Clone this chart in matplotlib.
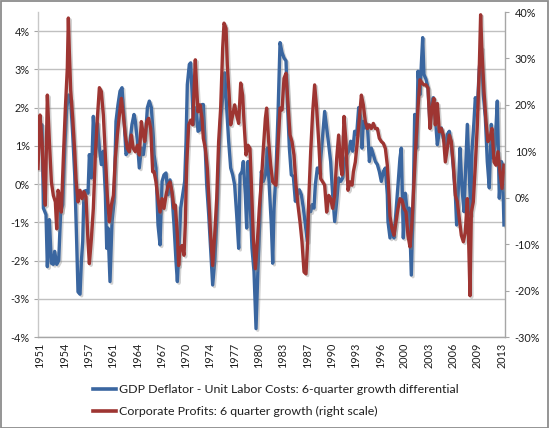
import numpy as np
import matplotlib
matplotlib.use("Agg")
import matplotlib.pyplot as plt
import matplotlib.patheffects as pe
from matplotlib.patches import Rectangle

plt.rcParams['font.family'] = ['Lato', 'DejaVu Sans']

# ---------------- data ----------------
blue_years = [
    1951.07, 1951.52, 1951.70, 1952.05, 1952.23, 1952.50, 1952.77, 1953.03, 1953.21, 1953.48,
    1953.75, 1954.01, 1954.28, 1954.55, 1954.82, 1955.08, 1955.35, 1955.62, 1955.89, 1956.15,
    1956.33, 1956.60, 1956.78, 1956.96, 1957.13, 1957.40, 1957.67, 1957.85, 1958.12, 1958.38,
    1958.65, 1958.92, 1959.19, 1959.45, 1959.72, 1959.99, 1960.17, 1960.34, 1960.61, 1960.88,
    1961.15, 1961.41, 1961.68, 1961.95, 1962.22, 1962.48, 1962.75, 1963.02, 1963.29, 1963.55,
    1963.82, 1964.00, 1964.27, 1964.53, 1964.80, 1965.07, 1965.34, 1965.61, 1965.87, 1966.14,
    1966.41, 1966.50, 1966.76, 1967.03, 1967.30, 1967.57, 1967.83, 1968.10, 1968.37, 1968.64,
    1968.90, 1969.17, 1969.44, 1969.62, 1969.88, 1970.06, 1970.33, 1970.60, 1970.78, 1970.95,
    1971.22, 1971.40, 1971.58, 1971.76, 1971.93, 1972.20, 1972.38, 1972.65, 1972.92, 1973.09,
    1973.27, 1973.54, 1973.81, 1974.07, 1974.34, 1974.61, 1974.88, 1975.14, 1975.41, 1975.68,
    1975.95, 1976.21, 1976.48, 1976.75, 1977.02, 1977.28, 1977.55, 1977.82, 1978.00, 1978.27,
    1978.44, 1978.71, 1978.89, 1979.07, 1979.33, 1979.60, 1979.87, 1980.14, 1980.40, 1980.67,
    1980.85, 1981.12, 1981.39, 1981.65, 1981.92, 1982.19, 1982.37, 1982.55, 1982.81, 1983.08,
    1983.35, 1983.62, 1983.88, 1984.15, 1984.33, 1984.60, 1984.86, 1985.13, 1985.40, 1985.67,
    1985.93, 1986.20, 1986.47, 1986.74, 1987.00, 1987.18, 1987.45, 1987.63, 1987.89, 1988.07,
    1988.34, 1988.61, 1988.88, 1989.14, 1989.32, 1989.59, 1989.86, 1990.12, 1990.39, 1990.66,
    1990.93, 1991.19, 1991.46, 1991.73, 1992.00, 1992.26, 1992.53, 1992.80, 1993.07, 1993.33,
    1993.60, 1993.87, 1994.14, 1994.31, 1994.49, 1994.76, 1995.03, 1995.30, 1995.56, 1995.83,
    1996.10, 1996.37, 1996.63, 1996.90, 1997.17, 1997.44, 1997.70, 1997.79, 1998.06, 1998.33,
    1998.59, 1998.86, 1999.13, 1999.39, 1999.57, 1999.84, 2000.11, 2000.38, 2000.64, 2000.91,
    2001.18, 2001.36, 2001.62, 2001.80, 2002.07, 2002.25, 2002.43, 2002.60, 2002.87, 2003.14,
    2003.41, 2003.59, 2003.85, 2004.12, 2004.39, 2004.66, 2004.92, 2005.19, 2005.46, 2005.73,
    2005.99, 2006.26, 2006.53, 2006.80, 2006.97, 2007.24, 2007.42, 2007.69, 2007.95, 2008.22,
    2008.40, 2008.67, 2008.85, 2009.02, 2009.29, 2009.47, 2009.74, 2010.01, 2010.27, 2010.54,
    2010.81, 2011.07, 2011.34, 2011.61, 2011.88, 2012.14, 2012.41, 2012.68, 2012.95, 2013.10,
    2013.30,
]
gdp_deflator_ulc = [
    1.00, 1.55, -0.63, -0.80, -2.16, -0.93, -2.07, -2.10, -1.76, -2.10,
    -2.00, -0.72, -0.54, 0.94, 2.00, 2.33, 2.20, 1.30, 0.24, -1.50,
    -2.82, -2.88, -2.03, -1.50, -0.19, -0.17, -0.24, 0.77, 0.16, 1.77,
    0.77, 1.60, 0.94, 0.51, 0.86, -0.28, -1.68, -1.15, -2.55, -0.98,
    -0.45, 1.64, 2.08, 2.43, 2.52, 1.73, 0.77, 0.86, 1.12, 1.56,
    1.82, 1.64, 1.12, 0.42, 0.94, 0.77, 1.20, 2.00, 2.17, 2.00,
    1.20, 0.77, 0.42, -1.07, -1.59, 0.07, 0.24, 0.29, -0.28, 0.11,
    -0.28, -1.07, -2.03, -2.55, -1.50, -0.63, -0.28, 0.07, 1.12, 2.60,
    3.13, 3.17, 2.43, 1.56, 2.00, 1.82, 1.38, 1.42, 2.08, 2.08,
    1.30, -0.02, -0.80, -1.68, -2.64, -2.03, -0.98, 0.59, 1.73, 2.26,
    2.91, 2.00, 1.12, 0.42, 0.24, -0.02, -0.80, -1.68, 0.24, 0.33,
    0.59, -0.28, -1.15, 0.59, -0.37, -1.68, -2.29, -3.78, -2.20, -0.80,
    0.33, 0.07, 0.24, 0.94, -0.10, -1.07, -2.07, -0.63, 0.33, 1.82,
    3.70, 3.44, 3.30, 3.22, 2.17, 0.94, 0.24, 0.20, -0.45, -0.28,
    -0.15, -0.28, -0.63, -1.07, -1.50, -0.63, -0.72, -0.54, -0.63, -0.02,
    0.42, 0.29, 0.86, 1.47, 1.90, 1.47, 1.03, 0.59, -0.28, -0.98,
    -0.45, 0.16, 0.07, 0.16, 0.59, 0.77, 0.86, 1.12, 0.86, 1.38,
    1.30, 2.00, 1.73, 0.94, 1.64, 1.47, 1.56, 0.59, 0.94, 0.77,
    0.59, 0.51, 0.33, 0.07, 0.33, 0.42, -0.28, -0.98, -1.41, -1.07,
    -1.41, -0.72, -0.02, 0.68, 0.94, -1.41, -0.24, -0.80, -0.63, -2.38,
    -0.28, 1.82, 0.94, 2.95, 2.34, 3.13, 3.83, 2.87, 2.74, 2.52,
    1.56, 2.00, 2.26, 1.73, 1.03, 1.38, 1.47, 1.20, 1.03, 1.30,
    1.38, 1.03, 0.42, -0.28, -1.07, 0.07, 0.94, -0.10, -0.72, 0.68,
    1.56, 0.24, -0.80, 0.86, 1.64, 2.26, 2.00, 3.04, 3.57, 2.34,
    1.73, 0.59, -0.10, 1.56, 0.68, 1.12, 2.17, -0.37, 0.59, 0.50,
    -1.07,
]

red_years = [
    1950.98, 1951.25, 1951.52, 1951.70, 1951.96, 1952.23, 1952.50, 1952.77, 1953.03, 1953.30,
    1953.48, 1953.66, 1953.84, 1954.10, 1954.37, 1954.64, 1954.90, 1955.04, 1955.17, 1955.35,
    1955.62, 1955.89, 1956.06, 1956.33, 1956.60, 1956.87, 1957.13, 1957.40, 1957.67, 1957.85,
    1958.12, 1958.38, 1958.65, 1958.92, 1959.19, 1959.45, 1959.72, 1959.99, 1960.25, 1960.52,
    1960.79, 1961.06, 1961.32, 1961.59, 1961.86, 1962.13, 1962.39, 1962.66, 1962.93, 1963.20,
    1963.46, 1963.73, 1964.00, 1964.27, 1964.53, 1964.80, 1965.07, 1965.25, 1965.52, 1965.78,
    1966.05, 1966.32, 1966.50, 1966.76, 1967.03, 1967.30, 1967.57, 1967.83, 1968.10, 1968.37,
    1968.64, 1968.90, 1969.17, 1969.35, 1969.62, 1969.79, 1969.97, 1970.24, 1970.51, 1970.69,
    1970.86, 1971.13, 1971.40, 1971.67, 1971.85, 1972.02, 1972.20, 1972.38, 1972.65, 1972.92,
    1973.09, 1973.36, 1973.63, 1973.81, 1974.07, 1974.34, 1974.61, 1974.88, 1975.14, 1975.41,
    1975.68, 1975.86, 1976.13, 1976.30, 1976.57, 1976.75, 1977.02, 1977.28, 1977.55, 1977.82,
    1978.09, 1978.35, 1978.53, 1978.80, 1979.07, 1979.33, 1979.51, 1979.78, 1980.05, 1980.32,
    1980.58, 1980.85, 1981.12, 1981.39, 1981.56, 1981.83, 1982.10, 1982.37, 1982.81, 1983.08,
    1983.35, 1983.62, 1983.88, 1984.15, 1984.42, 1984.69, 1984.95, 1985.22, 1985.49, 1985.75,
    1986.02, 1986.29, 1986.56, 1986.82, 1987.00, 1987.18, 1987.45, 1987.72, 1987.98, 1988.25,
    1988.52, 1988.79, 1989.05, 1989.32, 1989.59, 1989.86, 1990.12, 1990.39, 1990.66, 1990.93,
    1991.19, 1991.46, 1991.64, 1991.91, 1992.17, 1992.44, 1992.71, 1992.98, 1993.16, 1993.42,
    1993.69, 1993.96, 1994.23, 1994.49, 1994.76, 1995.03, 1995.30, 1995.56, 1995.83, 1996.10,
    1996.37, 1996.63, 1996.90, 1997.17, 1997.44, 1997.70, 1997.85, 1998.06, 1998.33, 1998.59,
    1998.86, 1999.13, 1999.39, 1999.66, 1999.93, 2000.20, 2000.46, 2000.73, 2001.00, 2001.27,
    2001.54, 2001.80, 2002.07, 2002.34, 2002.60, 2002.87, 2003.14, 2003.41, 2003.67, 2003.94,
    2004.12, 2004.39, 2004.66, 2004.92, 2005.19, 2005.46, 2005.73, 2005.99, 2006.26, 2006.53,
    2006.80, 2007.06, 2007.33, 2007.60, 2007.87, 2008.13, 2008.40, 2008.58, 2008.76, 2008.94,
    2009.20, 2009.47, 2009.74, 2010.01, 2010.18, 2010.36, 2010.63, 2010.90, 2011.16, 2011.43,
    2011.70, 2011.97, 2012.23, 2012.50, 2012.77, 2013.04, 2013.30,
]
corporate_profits = [
    6.3, 17.8, 12.0, 4.9, -1.6, 22.1, 12.1, 3.4, 0.5, -0.9,
    -6.7, 1.6, 0.5, -3.1, 8.5, 19.3, 27.9, 38.7, 31.5, 23.2,
    17.1, 9.9, 4.1, -0.9, 1.6, -0.2, 1.3, 0.2, -9.5, -14.2,
    -8.8, -2.3, 9.2, 17.1, 23.7, 22.9, 17.8, 9.2, 0.5, -5.2,
    -1.6, 0.5, 8.5, 13.5, 17.8, 21.4, 17.8, 13.5, 10.6, 9.9,
    13.5, 10.6, 9.9, 11.3, 9.2, 16.4, 13.5, 12.1, 16.4, 17.1,
    14.9, 5.6, 5.6, 3.4, -0.2, -3.1, -0.2, -2.3, 0.5, 2.7,
    3.4, 1.3, -2.3, -1.6, -8.1, -14.6, -11.0, -10.3, -12.4, -5.2,
    7.0, 15.7, 16.7, 15.7, 22.9, 29.7, 23.6, 18.5, 20.0, 17.1,
    12.8, 10.6, 6.3, 0.5, -8.1, -14.6, -8.1, -0.2, 12.1, 19.3,
    32.2, 37.6, 36.5, 28.6, 21.4, 15.7, 17.8, 20.0, 17.8, 16.0,
    24.7, 22.1, 16.4, 9.2, 11.3, 10.6, 3.4, -8.8, -15.3, -9.5,
    -2.3, 3.4, 10.6, 17.1, 19.3, 12.1, 7.0, 3.4, 2.7, 11.3,
    19.3, 18.9, 25.7, 26.8, 20.0, 13.5, 12.1, 9.2, 2.7, -1.6,
    -5.2, -9.5, -16.0, -16.4, -11.0, -0.9, 9.9, 18.5, 24.3, 19.3,
    12.1, 4.1, 3.4, 2.7, -3.1, 0.5, -0.2, -2.3, 0.5, 8.5,
    13.5, 7.0, 4.9, 17.5, 12.1, 1.6, 3.4, 2.7, 5.6, 7.7,
    12.1, 17.1, 22.1, 20.0, 16.4, 14.9, 15.7, 14.9, 16.0, 14.9,
    14.9, 12.8, 12.1, 11.7, 10.6, 7.0, 3.0, -4.0, -6.7, -8.1,
    -5.2, -2.3, -0.2, -0.5, -2.3, -3.1, -8.1, -10.6, -5.2, 3.4,
    12.1, 19.3, 25.4, 24.7, 24.3, 24.3, 23.6, 14.9, 19.3, 21.4,
    15.7, 20.3, 14.2, 14.9, 13.5, 7.7, 10.6, 13.5, 12.1, 7.0,
    0.5, -0.9, -4.5, -8.1, -9.5, -7.4, -0.2, -9.5, -21.1, -3.1,
    -0.9, 7.0, 15.7, 28.6, 39.4, 31.5, 22.9, 16.4, 12.1, 12.8,
    14.9, 7.7, 7.0, 9.9, 5.6, 2.0, 7.0,
]

x_tick_labels = ['1951', '1954', '1957', '1961', '1964', '1967', '1970', '1974', '1977', '1980',
                 '1983', '1987', '1990', '1993', '1996', '2000', '2003', '2006', '2009', '2013']
left_ticks = [-4, -3, -2, -1, 0, 1, 2, 3, 4]
right_ticks = [-30, -20, -10, 0, 10, 20, 30, 40]

label_blue = 'GDP Deflator - Unit Labor Costs: 6-quarter growth differential'
label_red = 'Corporate Profits: 6 quarter growth (right scale)'

# ---------------- figure ----------------
W, H = 549, 428
fig = plt.figure(figsize=(W / 100, H / 100), dpi=100)
fig.patch.set_facecolor('white')

ax = fig.add_axes([38 / W, (H - 337) / H, (505 - 38) / W, (337 - 12) / H])
ax2 = ax.twinx()

blue = '#3A66A0'
red = '#9E3532'
shadow = [pe.SimpleLineShadow(offset=(1.2, -1.2), shadow_color='#808080', alpha=0.35), pe.Normal()]

l1, = ax.plot(blue_years, gdp_deflator_ulc, color=blue, lw=2.4, solid_joinstyle='round',
              path_effects=shadow, label=label_blue)
l2, = ax2.plot(red_years, corporate_profits, color=red, lw=2.4, solid_joinstyle='round',
               path_effects=shadow, label=label_red)

ax.set_xlim(1950.98, 2013.44)
ax.set_ylim(-4, 4.5)
ax2.set_ylim(-30, 40)

tick_font = dict(fontsize=7.8, color='#1F1F1F')
tick_pos = 1951.25 + 3.25 * np.arange(len(x_tick_labels))
ax.set_xticks(tick_pos)
ax.set_xticklabels(x_tick_labels, rotation=90, **tick_font)
ax.tick_params(axis='x', length=0, pad=4)

ax.set_yticks(left_ticks)
ax.set_yticklabels([f'{v}%' for v in left_ticks], **tick_font)
ax.tick_params(axis='y', length=3, color='#A6A6A6', pad=3)
ax2.set_yticks(right_ticks)
ax2.set_yticklabels([f'{v}%' for v in right_ticks], **tick_font)
ax2.tick_params(axis='y', length=3, color='#A6A6A6', pad=4)

ax.grid(axis='y', color='#C0C0C0', lw=1.0)
ax.set_axisbelow(True)

for a in (ax, ax2):
    a.spines['top'].set_visible(False)
    a.set_facecolor('none')
ax.spines['right'].set_visible(False)
ax2.spines['left'].set_visible(False)
ax2.spines['bottom'].set_visible(False)
ax.spines['left'].set_color('#C8C8C8')
ax.spines['bottom'].set_color('#A6A6A6')
ax2.spines['right'].set_color('#A6A6A6')
ax.spines['left'].set_linewidth(1.0)
ax.spines['bottom'].set_linewidth(1.0)
ax2.spines['right'].set_linewidth(1.0)

leg = fig.legend(handles=[l1, l2], loc='upper left', bbox_to_anchor=(93 / W, 1 - 384 / H),
                 frameon=False, fontsize=8.9, handlelength=1.9, handletextpad=0.2,
                 labelspacing=0.9, borderpad=0, borderaxespad=0)
for t in leg.get_texts():
    t.set_color('#1F1F1F')
for h in leg.legend_handles:
    h.set_path_effects([])
    h.set_linewidth(2.6)

fig.patches.append(Rectangle((0.5 / W, 0.5 / H), 1 - 1.5 / W, 1 - 1.5 / H, transform=fig.transFigure,
                             fill=False, edgecolor='#8C8C8C', lw=1.3))

fig.savefig('out.png', dpi=100)
